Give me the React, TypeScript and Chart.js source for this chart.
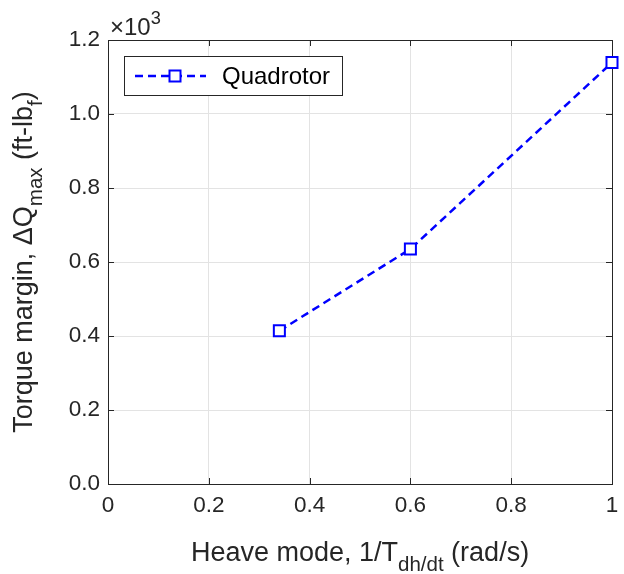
import React, { useEffect, useRef } from "react";
import { Chart, registerables } from "chart.js";
Chart.register(...registerables);

const heaveMode = [0.34, 0.6, 1.0];
const torqueMargin = [414, 635, 1139];
const seriesLabel = "Quadrotor";
const xTickValues = [0, 0.2, 0.4, 0.6, 0.8, 1];
const yTickValues = [0, 200, 400, 600, 800, 1000, 1200];
const xTitleParts = [
  { t: "Heave mode, 1/T" },
  { t: "dh/dt", sub: true },
  { t: " (rad/s)" },
];
const yTitleParts = [
  { t: "Torque margin, ΔQ" },
  { t: "max", sub: true },
  { t: " (ft-lb" },
  { t: "f", sub: true },
  { t: ")" },
];

const FONT = '"Liberation Sans", Arial, Helvetica, sans-serif';
const AXIS_COLOR = "#262626";
const BLUE = "#0000ff";

type Part = { t: string; sub?: boolean; sup?: boolean };

function drawRich(ctx: CanvasRenderingContext2D, parts: Part[], x: number, y: number, size: number, align: "center" | "left" = "center") {
  const small = size * 0.76;
  const widths = parts.map((p) => {
    ctx.font = `${p.sub || p.sup ? small : size}px ${FONT}`;
    return ctx.measureText(p.t).width;
  });
  const total = widths.reduce((a, b) => a + b, 0);
  let cx = align === "center" ? x - total / 2 : x;
  ctx.textAlign = "left";
  ctx.textBaseline = "alphabetic";
  parts.forEach((p, i) => {
    ctx.font = `${p.sub || p.sup ? small : size}px ${FONT}`;
    const dy = p.sub ? size * 0.37 : p.sup ? -size * 0.45 : 0;
    ctx.fillText(p.t, cx, y + dy);
    cx += widths[i];
  });
}

const framePlugin = {
  id: "frame",
  beforeDatasetsDraw(chart: any) {
    const { ctx, chartArea, scales } = chart;
    const { left, right, top, bottom } = chartArea;
    ctx.save();
    ctx.strokeStyle = AXIS_COLOR;
    ctx.lineWidth = 1;
    ctx.strokeRect(Math.round(left) + 0.5, Math.round(top) + 0.5, Math.round(right) - Math.round(left), Math.round(bottom) - Math.round(top));
    const tl = 6;
    ctx.beginPath();
    xTickValues.forEach((v) => {
      const px = Math.round(scales.x.getPixelForValue(v)) + 0.5;
      ctx.moveTo(px, bottom);
      ctx.lineTo(px, bottom - tl);
      ctx.moveTo(px, top);
      ctx.lineTo(px, top + tl);
    });
    yTickValues.forEach((v) => {
      const py = Math.round(scales.y.getPixelForValue(v)) + 0.5;
      ctx.moveTo(left, py);
      ctx.lineTo(left + tl, py);
      ctx.moveTo(right, py);
      ctx.lineTo(right - tl, py);
    });
    ctx.stroke();
    ctx.restore();
  },
  afterDraw(chart: any) {
    const { ctx, chartArea } = chart;
    const { left, right, top, bottom } = chartArea;
    ctx.save();
    ctx.fillStyle = AXIS_COLOR;
    drawRich(ctx, [{ t: "×10" }, { t: "3", sup: true }], left + 2, top - 5, 24, "left");
    drawRich(ctx, xTitleParts, (left + right) / 2, 561, 27);
    ctx.translate(32, (top + bottom) / 2);
    ctx.rotate(-Math.PI / 2);
    drawRich(ctx, yTitleParts, 0, 0, 27);
    ctx.restore();

    ctx.save();
    const bx = 124.5, by = 56.5, bw = 218, bh = 39;
    ctx.fillStyle = "#ffffff";
    ctx.fillRect(bx, by, bw, bh);
    ctx.strokeStyle = AXIS_COLOR;
    ctx.lineWidth = 1;
    ctx.strokeRect(bx, by, bw, bh);
    const cy = by + bh / 2;
    ctx.strokeStyle = BLUE;
    ctx.lineWidth = 2.5;
    ctx.setLineDash([8, 5]);
    ctx.beginPath();
    ctx.moveTo(135, cy);
    ctx.lineTo(206, cy);
    ctx.stroke();
    ctx.setLineDash([]);
    ctx.lineWidth = 2;
    ctx.fillStyle = "#ffffff";
    ctx.fillRect(175 - 5.5, cy - 5.5, 11, 11);
    ctx.strokeRect(175 - 5.5, cy - 5.5, 11, 11);
    ctx.fillStyle = "#000000";
    ctx.font = `24px ${FONT}`;
    ctx.textAlign = "left";
    ctx.textBaseline = "middle";
    ctx.fillText(seriesLabel, 222, cy + 1);
    ctx.restore();
  },
};

export default function App() {
  const canvasRef = useRef<HTMLCanvasElement | null>(null);

  useEffect(() => {
    if (!canvasRef.current) return;
    const points = heaveMode.map((x, i) => ({ x, y: torqueMargin[i] }));
    const chart = new Chart(canvasRef.current, {
      type: "scatter",
      data: {
        datasets: [
          {
            label: seriesLabel,
            data: points,
            showLine: true,
            borderColor: BLUE,
            borderWidth: 2.5,
            borderDash: [8, 5],
            pointStyle: "rect",
            pointRadius: 7.8,
            pointBorderWidth: 2,
            pointBorderColor: BLUE,
            pointBackgroundColor: "#ffffff",
            clip: false,
          } as any,
        ],
      },
      options: {
        animation: false,
        responsive: true,
        maintainAspectRatio: false,
        layout: { padding: { top: 40, right: 12, left: 0, bottom: 0 } },
        plugins: { legend: { display: false }, tooltip: { enabled: false } },
        scales: {
          x: {
            type: "linear",
            min: 0,
            max: 1,
            border: { display: false },
            grid: { color: "#e3e3e3", drawTicks: false, lineWidth: 1 },
            ticks: {
              stepSize: 0.2,
              padding: 8,
              color: AXIS_COLOR,
              font: { family: FONT, size: 22.5 },
              maxRotation: 0,
              callback: (v: any) => String(Number(Number(v).toFixed(1))),
            },
            afterFit: (s: any) => {
              s.height = 90;
              s.paddingLeft = 0;
              s.paddingRight = 0;
            },
          },
          y: {
            type: "linear",
            min: 0,
            max: 1200,
            border: { display: false },
            grid: { color: "#e3e3e3", drawTicks: false, lineWidth: 1 },
            ticks: {
              stepSize: 200,
              padding: 8,
              color: AXIS_COLOR,
              font: { family: FONT, size: 22.5 },
              callback: (v: any) => (Number(v) / 1000).toFixed(1),
            },
            afterFit: (s: any) => {
              s.width = 108;
              s.paddingTop = 0;
              s.paddingBottom = 0;
            },
          },
        },
      },
      plugins: [framePlugin],
    });
    return () => chart.destroy();
  }, []);

  return (
    <div style={{ position: "fixed", left: 0, top: 0, width: 624, height: 574, background: "#ffffff" }}>
      <canvas ref={canvasRef} />
    </div>
  );
}
